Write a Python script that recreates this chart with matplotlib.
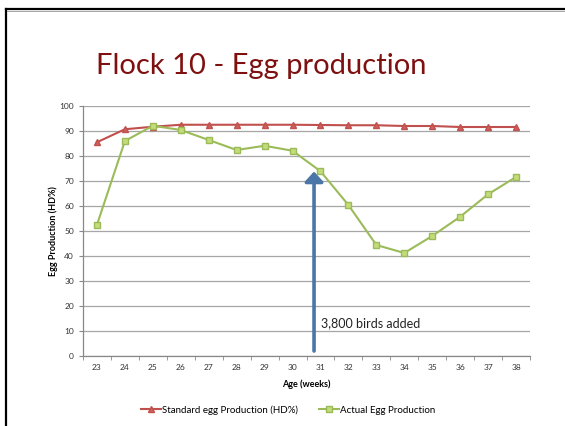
import matplotlib.pyplot as plt
import numpy as np

plt.rcParams['font.family'] = ['Lato', 'DejaVu Sans']

ages = [23, 24, 25, 26, 27, 28, 29, 30, 31, 32, 33, 34, 35, 36, 37, 38]
standard = [85.5, 90.7, 91.7, 92.5, 92.5, 92.5, 92.5, 92.5, 92.4, 92.3, 92.3, 92.0, 92.0, 91.6, 91.6, 91.6]
actual = [52.5, 86.0, 92.1, 90.4, 86.4, 82.4, 84.1, 82.1, 73.9, 60.4, 44.4, 41.2, 48.0, 55.7, 64.7, 71.6]

fig = plt.figure(figsize=(5.65, 4.26), dpi=100)

# рамка слайда
fig.add_artist(plt.Line2D([6/565, 6/565], [0, 1 - 9/426], color='black', lw=1.6))
fig.add_artist(plt.Line2D([6/565, 1], [1 - 9/426, 1 - 9/426], color='black', lw=1.6))
fig.add_artist(plt.Line2D([7/565, 1], [1 - 10.5/426, 1 - 10.5/426], color='#999999', lw=0.6))

fig.text(0.463, 1 - 66/426, 'Flock 10 - Egg production', ha='center', va='center',
         fontsize=21, color='#7f1010')

ax = fig.add_axes([83/565, 1 - 356/426, 447/565, 250/426])
x = np.arange(len(ages))

ax.plot(x, standard, color='#c0504d', lw=1.5, marker='^', markersize=5,
        markerfacecolor='#d0605c', markeredgecolor='#c0504d',
        label='Standard egg Production (HD%)')
ax.plot(x, actual, color='#9bbb59', lw=1.5, marker='s', markersize=5,
        markerfacecolor='#c3dc7a', markeredgecolor='#9bbb59',
        label='Actual Egg Production')

ax.set_xlim(-0.5, len(ages) - 0.5)
ax.set_ylim(0, 100)
ax.set_yticks(range(0, 101, 10))
ax.set_xticks(x)
ax.set_xticklabels(ages)
ax.set_xticks(np.arange(-0.5, len(ages), 1), minor=True)
ax.tick_params(axis='x', which='major', length=0, labelsize=6, pad=6, colors='#333333')
ax.tick_params(axis='x', which='minor', length=3, color='#888888')
ax.tick_params(axis='y', length=3, labelsize=6, color='#888888', labelcolor='#333333')
ax.grid(axis='y', color='#a6a6a6', lw=0.9)
ax.set_axisbelow(True)
for s in ['top', 'right']:
    ax.spines[s].set_visible(False)
for s in ['left', 'bottom']:
    ax.spines[s].set_color('#888888')
    ax.spines[s].set_linewidth(0.9)

ax.set_xlabel('Age (weeks)', fontsize=6.5, fontweight='bold', labelpad=6)
ax.set_ylabel('Egg Production (HD%)', fontsize=6.5, fontweight='bold', labelpad=1)

# стрелка
ax.annotate('', xy=(7.77, 73.8), xytext=(7.77, 2),
            arrowprops=dict(arrowstyle='-|>,head_length=0.6,head_width=0.55',
                            color='#4a76a8', lw=2.6, shrinkA=0, shrinkB=0))
ax.text(8.02, 13.2, '3,800 birds added', fontsize=9, va='center', color='#222222')

fig.legend(loc='center', bbox_to_anchor=(0.51, 1 - 410/426), ncol=2, frameon=False,
           fontsize=7, handlelength=2.0, columnspacing=2.2, handletextpad=0.1)

plt.savefig('out.png', dpi=100)
